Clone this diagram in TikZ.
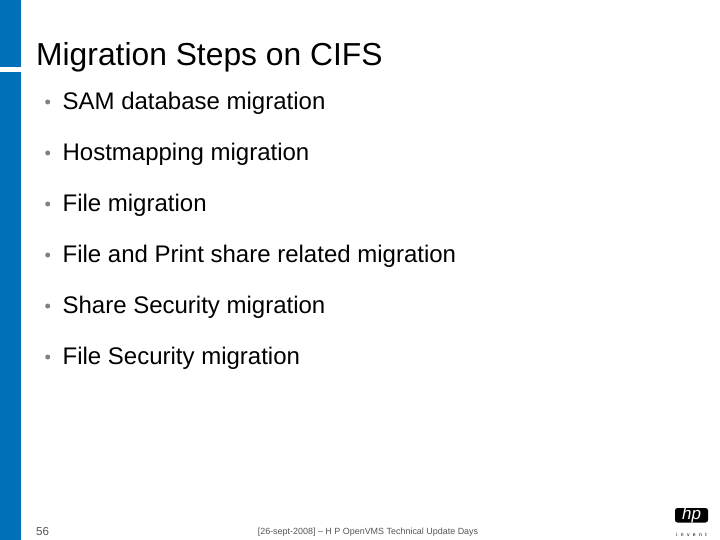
\documentclass[tikz,border=0pt]{standalone}
\usepackage{fontspec}
\setmainfont{Liberation Sans}
\definecolor{hpblue}{HTML}{0071B8}
\definecolor{bulletgray}{HTML}{808080}
\definecolor{foot}{HTML}{555555}
\tikzset{
  x=1pt,y=-1pt,
  item/.style={anchor=base west,inner sep=0pt,font=\fontsize{24}{28}\selectfont,text=black},
  dot/.style={circle,fill=bulletgray,draw=none,inner sep=0pt,minimum size=5pt},
  bar/.style={fill=hpblue,draw=none}
}
\begin{document}
\begin{tikzpicture}
\useasboundingbox (0,0) rectangle (720,540);
\fill[white] (0,0) rectangle (720,540);
\fill[bar] (0,0) rectangle (21,67);
\fill[bar] (0,72) rectangle (21,540);
\node[item,font=\fontsize{31.8}{36}\selectfont] (title) at (36,65.8) {Migration Steps on CIFS};
\node[dot] (b1) at (47.7,102) {};
\node[item] (t1) at (62.4,109.5) {SAM database migration};
\node[dot] (b2) at (47.7,153) {};
\node[item] (t2) at (62.4,160.5) {Hostmapping migration};
\node[dot] (b3) at (47.7,204) {};
\node[item] (t3) at (62.4,211.5) {File migration};
\node[dot] (b4) at (47.7,255) {};
\node[item] (t4) at (62.4,262.3) {File and Print share related migration};
\node[dot] (b5) at (47.7,306) {};
\node[item] (t5) at (62.4,313.3) {Share Security migration};
\node[dot] (b6) at (47.7,357) {};
\node[item] (t6) at (62.4,364.3) {File Security migration};
\node[item,font=\fontsize{11.6}{14}\selectfont,text=foot] (page) at (36,535) {56};
\node[item,font=\fontsize{8.95}{11}\selectfont,text=foot,anchor=base] (foottext) at (368,534.5) {[26-sept-2008] -- H P OpenVMS Technical Update Days};
\fill[black,rounded corners=2.5pt] (675,508) rectangle (708,522.5);
\node[inner sep=0pt,text=white,font=\fontsize{17}{17}\selectfont\itshape] (hp) at (691.5,515) {hp};
\node[inner sep=0pt,anchor=base,font=\fontsize{5}{6}\selectfont,text=black] (inv) at (691.5,536) {i\hspace{3.4pt}n\hspace{3.4pt}v\hspace{3.4pt}e\hspace{3.4pt}n\hspace{3.4pt}t};
\end{tikzpicture}
\end{document}
